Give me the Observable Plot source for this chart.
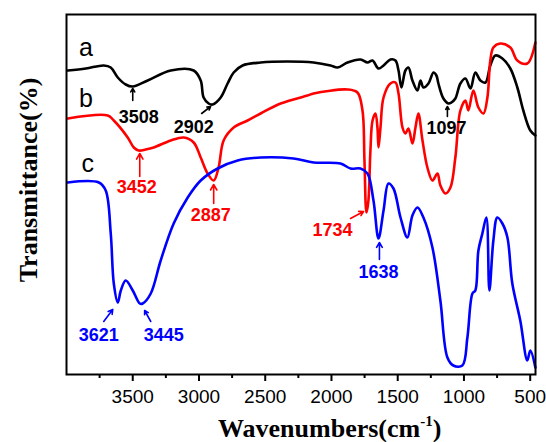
<!DOCTYPE html>
<html>
<head>
<meta charset="utf-8">
<script src="https://cdn.jsdelivr.net/npm/d3@7"></script>
<script src="https://cdn.jsdelivr.net/npm/@observablehq/plot@0.6"></script>
<style>
  html, body { margin: 0; padding: 0; background: #fff; }
  #chart { width: 546px; height: 442px; }
</style>
</head>
<body>
<div id="chart"></div>
<script>
// Curve a (black)
const aWave = [3990,3854,3719,3666,3613,3553,3500,3387,3213,3040,2987,2965,2927,2897,2836,2784,2738,2671,2535,2331,2135,2007,1954,1879,1781,1728,1690,1645,1607,1555,1517,1494,1472,1442,1419,1389,1351,1328,1306,1268,1230,1208,1193,1155,1117,1095,1065,1027,989,951,914,876,838,801,763,710,650,597,552,499,461];
const aT    = [304,306,309,307,297,290,288,294,304,304,294,277,271,270,277,291,302,309,312,313,312,309,307,312,315,312,314,306,309,315,314,304,287,304,307,294,284,294,287,291,302,299,291,276,271,272,276,291,296,286,302,294,292,309,319,316,306,287,264,244,239];
// Curve b (red)
const bWave = [3990,3689,3643,3538,3492,3455,3402,3342,3213,3115,3040,2987,2935,2889,2852,2814,2738,2633,2535,2384,2181,2135,1879,1804,1766,1751,1736,1721,1706,1690,1668,1653,1645,1630,1607,1555,1517,1494,1464,1442,1419,1389,1366,1344,1313,1276,1238,1200,1178,1140,1102,1065,1027,989,967,929,891,853,823,801,778,725,650,597,522,461];
const bT    = [256,259,254,237,227,224,225,227,234,237,232,217,201,194,207,234,247,254,261,271,279,281,285,282,264,214,162,174,224,254,261,247,227,247,277,291,292,281,247,241,246,231,247,261,234,207,194,201,189,181,187,217,264,274,264,284,267,261,277,314,327,331,327,314,311,332];
// Curve c (blue)
const cWave = [3990,3756,3704,3666,3643,3613,3590,3553,3500,3447,3425,3364,3289,3191,3085,2987,2859,2708,2535,2286,2135,1932,1856,1781,1728,1683,1645,1607,1570,1532,1479,1427,1389,1351,1306,1238,1178,1125,1080,1012,974,936,914,891,861,831,808,778,748,710,672,635,575,522,499,461];
const cT    = [192,192,184,141,91,72,84,94,84,71,71,81,114,151,177,194,206,214,217,216,212,211,206,206,201,174,136,164,191,186,157,137,159,167,157,127,74,17,9,9,37,81,84,124,141,157,84,134,157,151,137,91,54,14,24,7];

// Axis ticks
const majorTicks = [3500,3000,2500,2000,1500,1000,500];
const minorTicks = [3750,3250,2750,2250,1750,1250,750];

// Series labels
const seriesNames = ["a","b","c"];
const seriesLabelWave = [3854,3854,3839];
const seriesLabelT = [327,276,211];

// Peak annotations
const peakText  = ["3508","2902","1097","3452","2887","1734","1638","3621","3445"];
const peakSeries= ["a","a","a","b","b","b","c","c","c"];
const peakTextW = [3455,3040,1132,3470,2912,1992,1645,3756,3266];
const peakTextT = [257,247,246,187,159,144,102,39,39];
const arrowW1 = [3500,2980,1125,3447,2889,1856,1638,3719,3364];
const arrowT1 = [274,261,258,198,171,156,115,53,53];
const arrowW2 = [3500,2912,1125,3447,2889,1758,1638,3651,3410];
const arrowT2 = [286,268,268,221,190,163,132,65,64];

const colors = {a: "#000000", b: "#ff0000", c: "#0000ff"};

const toRows = (s, w, t) => w.map((x, i) => ({series: s, wave: x, t: t[i]}));
const rows = [...toRows("a", aWave, aT), ...toRows("b", bWave, bT), ...toRows("c", cWave, cT)];
const labels = seriesNames.map((s, i) => ({s, wave: seriesLabelWave[i], t: seriesLabelT[i]}));
const peaks = peakText.map((txt, i) => ({txt, s: peakSeries[i], w: peakTextW[i], t: peakTextT[i],
  w1: arrowW1[i], t1: arrowT1[i], w2: arrowW2[i], t2: arrowT2[i]}));

const chart = Plot.plot({
  width: 546,
  height: 442,
  marginLeft: 66,
  marginRight: 11,
  marginTop: 14,
  marginBottom: 68,
  style: {fontFamily: "'Liberation Sans', Arial, sans-serif", fontSize: "19px", color: "#000", background: "#fff", overflow: "visible"},
  x: {domain: [4000, 460]},
  y: {domain: [0, 360], axis: null},
  marks: [
    Plot.line(rows, {x: "wave", y: "t", z: "series", stroke: d => colors[d.series], strokeWidth: 2.6, curve: "catmull-rom"}),
    Plot.frame({stroke: "#000", strokeWidth: 2}),
    Plot.axisX({ticks: majorTicks, tickSize: 7, tickPadding: 8, tickFormat: d => String(d), fontSize: 19, strokeWidth: 2, label: null}),
    Plot.axisX({ticks: minorTicks, tickSize: 4, tickFormat: () => "", strokeWidth: 2, label: null}),
    Plot.text(labels, {x: "wave", y: "t", text: "s", fill: "#000", fontSize: 25}),
    Plot.text(peaks, {x: "w", y: "t", text: "txt", fill: d => colors[d.s], fontSize: 18, fontWeight: "bold"}),
    Plot.arrow(peaks, {x1: "w1", y1: "t1", x2: "w2", y2: "t2", stroke: d => colors[d.s], strokeWidth: 1.6, headLength: 6})
  ]
});

document.getElementById("chart").appendChild(chart);

// Axis titles (with superscript)
const svg = d3.select(chart);
const xt = svg.append("text")
  .attr("x", 218).attr("y", 437)
  .attr("text-anchor", "start")
  .attr("font-family", "'Liberation Serif', 'Times New Roman', serif")
  .attr("font-weight", "bold").attr("font-size", 26).attr("fill", "#000");
xt.append("tspan").text("Wavenumbers(cm");
xt.append("tspan").attr("dy", -11).attr("font-size", 15).text("-1");
xt.append("tspan").attr("dy", 11).text(")");

svg.append("text")
  .attr("transform", "translate(37,180) rotate(-90)")
  .attr("text-anchor", "middle")
  .attr("font-family", "'Liberation Serif', 'Times New Roman', serif")
  .attr("font-weight", "bold").attr("font-size", 26).attr("fill", "#000")
  .text("Transmittance(%)");
</script>
</body>
</html>
